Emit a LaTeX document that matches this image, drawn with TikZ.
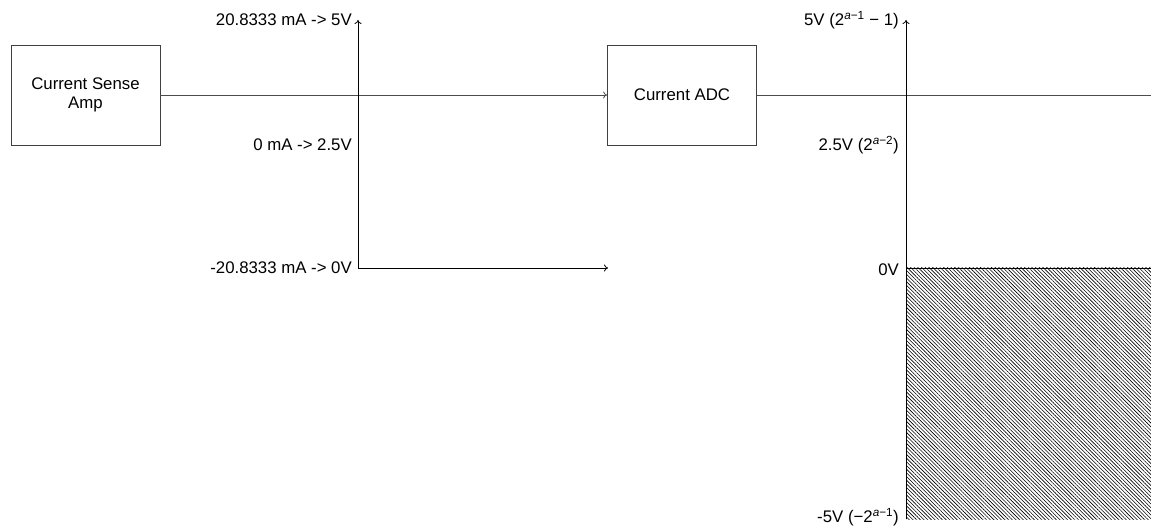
\documentclass[tikz,border=0pt]{standalone}
\usepackage{fontspec}
\setmainfont{Liberation Sans}
\usetikzlibrary{arrows.meta,patterns.meta}
\newcommand\lblfont{\fontsize{16.8}{19}\selectfont}
\begin{document}
\begin{tikzpicture}[x=1pt,y=-1pt,
  box/.style={draw=black!75, line width=0.8pt, minimum width=149pt, minimum height=100pt, align=center, inner sep=0pt, font=\lblfont},
  lbl/.style={anchor=east, inner sep=0pt, font=\lblfont},
  sig/.style={draw=black!70, line width=0.8pt},
  axis/.style={line width=0.8pt, -{To[length=4pt,width=7pt]}},
  hatch/.style={pattern={Lines[angle=-45,distance=2.6pt,line width=0.6pt]}}]
\useasboundingbox (0,0) rectangle (1151,526);
% boxes
\node[box] (amp) at (85.5,95) {Current Sense\\Amp};
\node[box] (adc) at (682,95) {Current ADC};
% signal lines
\coordinate (rend) at (1151,95);
\draw[sig, -{To[length=4pt,width=7pt]}] (amp.east) -- (adc.west);
\draw[sig] (adc.east) -- (rend);
% first axes
\coordinate (o1) at (358,268);
\coordinate (t1) at (358,20);
\coordinate (r1) at (608,268);
\draw[axis] (o1) -- (t1);
\draw[axis] (o1) -- (r1);
\node[lbl] (l1a) at (352,20) {20.8333 mA -> 5V};
\node[lbl] (l1b) at (352,145) {0 mA -> 2.5V};
\node[lbl] (l1c) at (352,268) {-20.8333 mA -> 0V};
% second axes
\coordinate (o2) at (906,268);
\coordinate (t2) at (906,20);
\coordinate (b2) at (1151,519);
\fill[hatch] (o2) rectangle (b2);
\draw[line width=0.8pt] (906,519) -- (o2) -- (1151,268);
\draw[axis] (o2) -- (t2);
\node[lbl] (l2a) at (899,20) {5V (2\textsuperscript{\textit{a}−1} − 1)};
\node[lbl] (l2b) at (899,145) {2.5V (2\textsuperscript{\textit{a}−2})};
\node[lbl] (l2c) at (899,270) {0V};
\node[lbl] (l2d) at (899,517) {-5V (−2\textsuperscript{\textit{a}−1})};
\end{tikzpicture}
\end{document}
